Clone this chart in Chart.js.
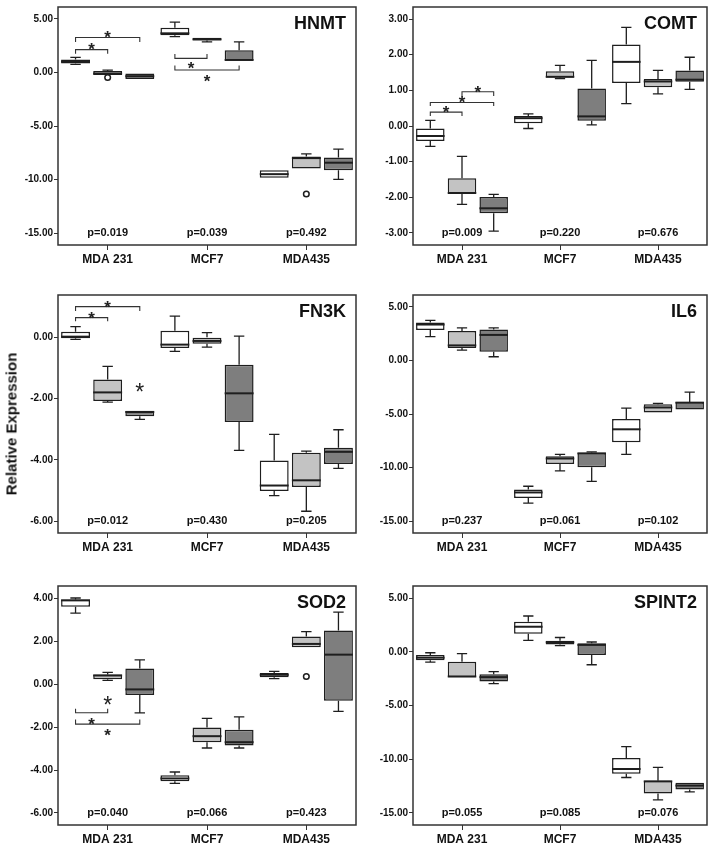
<!DOCTYPE html>
<html>
<head>
<meta charset="utf-8">
<script src="https://cdn.jsdelivr.net/npm/chart.js@4.4.1/dist/chart.umd.min.js"></script>
<style>
  html, body { margin: 0; padding: 0; background: #fff; overflow: hidden; }
  body { width: 709px; height: 844px; position: relative; }
  canvas { position: absolute; }
  #ylabel {
    position: absolute; left: 11px; top: 424px;
    transform: translate(-50%, -50%) rotate(-90deg);
    font: bold 15px "Liberation Sans", Arial, sans-serif;
    white-space: nowrap; color: #111;
  }
</style>
</head>
<body>
<canvas id="hnmt" width="360" height="270" style="left:0;top:0"></canvas>
<canvas id="comt" width="354" height="270" style="left:355px;top:0"></canvas>
<canvas id="fn3k" width="360" height="270" style="left:0;top:288px"></canvas>
<canvas id="il6" width="354" height="270" style="left:355px;top:288px"></canvas>
<canvas id="sod2" width="360" height="271" style="left:0;top:579px"></canvas>
<canvas id="spint2" width="354" height="271" style="left:355px;top:579px"></canvas>
<div id="ylabel">Relative Expression</div>
<script>
const categories = ["MDA 231", "MCF7", "MDA435"];

// each box: [min, q1, median, q3, max], one per category
const hnmtS1 = [[0.75, 0.85, 1.02, 1.22, 1.42], [3.36, 3.48, 3.66, 4.18, 4.7], [-9.83, -9.83, -9.5, -9.13, -9.13]];
const hnmtS2 = [[-0.23, -0.23, -0.1, 0.13, 0.22], [2.87, 3.0, 3.1, 3.24, 3.24], [-8.98, -8.98, -8.0, -7.86, -7.61]];
const hnmtS3 = [[-0.62, -0.6, -0.35, -0.1, -0.1], [1.05, 1.11, 1.17, 2.08, 2.87], [-9.98, -9.13, -8.43, -7.95, -7.16]];
const hnmtOutliers = [[0, 1, -0.47], [2, 1, -11.35]];
const hnmtP = ["p=0.019", "p=0.039", "p=0.492"];
const hnmtTicks = [5, 0, -5, -10, -15];

const comtS1 = [[-0.57, -0.42, -0.28, -0.07, 0.16], [-0.07, 0.08, 0.22, 0.28, 0.34], [0.63, 1.21, 1.8, 2.29, 2.77]];
const comtS2 = [[-2.2, -1.9, -1.88, -1.47, -0.85], [1.33, 1.36, 1.38, 1.54, 1.7], [0.9, 1.09, 1.25, 1.32, 1.56]];
const comtS3 = [[-2.95, -2.45, -2.31, -1.99, -1.92], [0.03, 0.15, 0.27, 1.05, 1.84], [1.03, 1.24, 1.3, 1.56, 1.93]];
const comtP = ["p=0.009", "p=0.220", "p=0.676"];
const comtTicks = [3, 2, 1, 0, -1, -2, -3];

const fn3kS1 = [[-0.07, -0.03, 0.02, 0.18, 0.35], [-0.46, -0.35, -0.24, 0.21, 0.69], [-5.17, -5.02, -4.84, -4.02, -3.17]];
const fn3kS2 = [[-2.12, -2.08, -1.8, -1.38, -0.95], [-0.32, -0.21, -0.12, 0.0, 0.15], [-5.68, -4.89, -4.67, -3.77, -3.72]];
const fn3kS3 = [[-2.68, -2.58, -2.44, -2.4, -2.4], [-3.69, -2.77, -1.83, -0.9, 0.04], [-4.28, -4.14, -3.74, -3.61, -3.02]];
const fn3kP = ["p=0.012", "p=0.430", "p=0.205"];
const fn3kTicks = [0, -2, -4, -6];

const il6S1 = [[2.23, 2.84, 3.36, 3.54, 3.75], [-13.33, -12.84, -12.33, -12.05, -11.75], [-8.77, -7.64, -6.43, -5.46, -4.45]];
const il6S2 = [[0.96, 1.17, 1.41, 2.75, 3.05], [-10.32, -9.68, -9.16, -8.95, -8.77], [-4.91, -4.85, -4.39, -4.09, -4.0]];
const il6S3 = [[0.35, 0.81, 2.39, 2.9, 3.05], [-11.29, -9.98, -8.68, -8.62, -8.53], [-4.6, -4.57, -3.94, -3.88, -2.96]];
const il6P = ["p=0.237", "p=0.061", "p=0.102"];
const il6Ticks = [5, 0, -5, -10, -15];

const sod2S1 = [[3.32, 3.61, 3.91, 3.95, 4.02], [-4.62, -4.52, -4.39, -4.24, -4.09], [0.26, 0.33, 0.44, 0.52, 0.6]];
const sod2S2 = [[0.18, 0.23, 0.41, 0.45, 0.55], [-2.97, -2.7, -2.42, -2.02, -1.59], [1.7, 1.73, 1.88, 2.23, 2.45]];
const sod2S3 = [[-1.33, -0.5, -0.24, 0.74, 1.14], [-2.97, -2.85, -2.7, -2.12, -1.52], [-1.26, -0.77, 1.38, 2.5, 3.36]];
const sod2Outliers = [[2, 1, 0.36]];
const sod2P = ["p=0.040", "p=0.066", "p=0.423"];
const sod2Ticks = [4, 2, 0, -2, -4, -6];

const spint2S1 = [[-0.97, -0.79, -0.55, -0.3, -0.09], [1.06, 1.67, 2.33, 2.79, 3.33], [-11.7, -11.36, -10.91, -9.88, -8.82]];
const spint2S2 = [[-2.42, -2.36, -2.3, -0.94, -0.18], [0.58, 0.67, 0.88, 1.03, 1.33], [-13.79, -13.18, -12.06, -12.0, -10.76]];
const spint2S3 = [[-2.97, -2.76, -2.36, -2.09, -1.85], [-1.21, -0.3, 0.64, 0.79, 0.91], [-13.03, -12.82, -12.45, -12.18, -12.12]];
const spint2P = ["p=0.055", "p=0.085", "p=0.076"];
const spint2Ticks = [5, 0, -5, -10, -15];

// significance brackets: [category, fromSeries, toSeries, lineValue, endValue]
const hnmtBrackets = [[0, 0, 1, 2.14, 1.75], [0, 0, 2, 3.27, 2.84], [1, 0, 1, 1.32, 1.72], [1, 0, 2, 0.23, 0.65]];
const comtBrackets = [[0, 0, 1, 0.39, 0.28], [0, 0, 2, 0.66, 0.56], [0, 1, 2, 0.96, 0.84]];
const fn3kBrackets = [[0, 0, 1, 0.64, 0.52], [0, 0, 2, 1.0, 0.86]];
const sod2Brackets = [[0, 0, 1, -1.33, -1.14], [0, 0, 2, -1.86, -1.64]];

// asterisks: [category, seriesA, seriesB, value] drawn midway between two boxes
const hnmtStars = [[0, 0, 1, 2.54], [0, 0, 2, 3.66], [1, 0, 1, 0.8], [1, 0, 2, -0.44]];
const comtStars = [[0, 0, 1, 0.51], [0, 0, 2, 0.78], [0, 1, 2, 1.07]];
const fn3kStars = [[0, 0, 1, 0.75], [0, 0, 2, 1.11]];
const fn3kBigStars = [[0, 2, 2, -1.62]];
const sod2Stars = [[0, 0, 1, -1.68], [0, 0, 2, -2.21]];
const sod2BigStars = [[0, 1, 1, -0.74]];

const FONT = "'Liberation Sans', Arial, sans-serif";
const fills = ["#ffffff", "#c3c3c3", "#7e7e7e"];
const INK = "#1e1e1e";

const boxExtras = {
  id: "boxExtras",
  afterDatasetsDraw(chart, args, opts) {
    const ctx = chart.ctx;
    const ys = chart.scales.y;
    const area = chart.chartArea;
    const px = (cat, s) => chart.getDatasetMeta(s).data[cat].x;
    ctx.save();
    ctx.strokeStyle = INK;
    ctx.lineCap = "butt";

    // whiskers and medians
    opts.stats.forEach((series, s) => {
      const meta = chart.getDatasetMeta(s);
      series.forEach((st, cat) => {
        const el = meta.data[cat];
        const x = el.x, w = el.width, cap = w * 0.36;
        const [mn, q1, md, q3, mx] = st.map(v => ys.getPixelForValue(v));
        ctx.lineWidth = 1.3;
        ctx.beginPath();
        if (q3 - mx > 0.8) {
          ctx.moveTo(x, q3); ctx.lineTo(x, mx);
          ctx.moveTo(x - cap / 2, mx); ctx.lineTo(x + cap / 2, mx);
        }
        if (mn - q1 > 0.8) {
          ctx.moveTo(x, q1); ctx.lineTo(x, mn);
          ctx.moveTo(x - cap / 2, mn); ctx.lineTo(x + cap / 2, mn);
        }
        ctx.stroke();
        ctx.lineWidth = 2;
        ctx.beginPath();
        ctx.moveTo(x - w / 2, md); ctx.lineTo(x + w / 2, md);
        ctx.stroke();
      });
    });

    // outliers
    (opts.outliers || []).forEach(([cat, s, v]) => {
      ctx.lineWidth = 1.5;
      ctx.fillStyle = "#fff";
      ctx.beginPath();
      ctx.arc(px(cat, s), ys.getPixelForValue(v), 2.8, 0, Math.PI * 2);
      ctx.fill();
      ctx.stroke();
    });

    // brackets
    ctx.lineWidth = 1.1;
    ctx.strokeStyle = "#333";
    (opts.brackets || []).forEach(([cat, a, b, line, end]) => {
      const x1 = px(cat, a), x2 = px(cat, b);
      const yl = ys.getPixelForValue(line), ye = ys.getPixelForValue(end);
      ctx.beginPath();
      ctx.moveTo(x1, ye); ctx.lineTo(x1, yl); ctx.lineTo(x2, yl); ctx.lineTo(x2, ye);
      ctx.stroke();
    });

    // asterisks
    ctx.fillStyle = "#222";
    ctx.textAlign = "center";
    ctx.textBaseline = "alphabetic";
    const star = (list, size, weight) => (list || []).forEach(([cat, a, b, v]) => {
      ctx.font = weight + " " + size + "px " + FONT;
      const x = (px(cat, a) + px(cat, b)) / 2;
      ctx.fillText("*", x, ys.getPixelForValue(v) + size * 0.57);
    });
    star(opts.stars, 17, "bold");
    star(opts.bigStars, 23, "normal");

    // p-values
    ctx.fillStyle = "#111";
    ctx.font = "bold 11px " + FONT;
    ctx.textBaseline = "middle";
    opts.pvals.forEach((p, i) => {
      ctx.fillText(p, chart.scales.x.getPixelForValue(i), area.bottom - 12);
    });

    // gene name
    ctx.font = "bold 18px " + FONT;
    ctx.textAlign = "right";
    ctx.textBaseline = "alphabetic";
    ctx.fillText(opts.title, area.right - 10, area.top + 22);
    ctx.restore();
  },
  afterDraw(chart) {
    const a = chart.chartArea;
    const ctx = chart.ctx;
    ctx.save();
    ctx.strokeStyle = "#333";
    ctx.lineWidth = 1.5;
    ctx.strokeRect(a.left, a.top, a.right - a.left, a.bottom - a.top);
    ctx.restore();
  }
};

function makePanel(id, title, series, range, ticks, pvals, extra, padRight) {
  const stats = series;
  new Chart(document.getElementById(id), {
    type: "bar",
    data: {
      labels: categories,
      datasets: series.map((s, i) => ({
        data: s.map(b => [b[1], b[3]]),
        backgroundColor: fills[i],
        borderColor: INK,
        borderWidth: 1.5,
        borderSkipped: false,
        categoryPercentage: 0.97,
        barPercentage: 0.9
      }))
    },
    options: {
      responsive: false,
      animation: false,
      layout: { padding: { left: 0, right: padRight, top: 1, bottom: 1 } },
      plugins: {
        legend: { display: false },
        tooltip: { enabled: false },
        boxExtras: Object.assign({ title, stats, pvals }, extra)
      },
      scales: {
        x: {
          grid: { display: true, offset: false, drawOnChartArea: false, tickLength: 5, color: "#333" },
          border: { display: false },
          ticks: { color: "#111", padding: 2, font: { family: FONT, size: 12, weight: "bold" } },
          afterFit: s => { s.height = 24; }
        },
        y: {
          min: range[0],
          max: range[1],
          grid: { display: true, drawOnChartArea: false, tickLength: 4, color: "#333" },
          border: { display: false },
          ticks: {
            color: "#111",
            padding: 1,
            font: { family: FONT, size: 10, weight: "bold" },
            callback: v => Number(v).toFixed(2)
          },
          afterBuildTicks: s => { s.ticks = ticks.map(v => ({ value: v })); },
          afterFit: s => { s.width = 58; }
        }
      }
    },
    plugins: [boxExtras]
  });
}

makePanel("hnmt", "HNMT", [hnmtS1, hnmtS2, hnmtS3], [-16.12, 6.12], hnmtTicks, hnmtP,
  { outliers: hnmtOutliers, brackets: hnmtBrackets, stars: hnmtStars }, 4);
makePanel("comt", "COMT", [comtS1, comtS2, comtS3], [-3.34, 3.34], comtTicks, comtP,
  { brackets: comtBrackets, stars: comtStars }, 2);
makePanel("fn3k", "FN3K", [fn3kS1, fn3kS2, fn3kS3], [-6.39, 1.38], fn3kTicks, fn3kP,
  { brackets: fn3kBrackets, stars: fn3kStars, bigStars: fn3kBigStars }, 4);
makePanel("il6", "IL6", [il6S1, il6S2, il6S3], [-16.12, 6.12], il6Ticks, il6P, {}, 2);
makePanel("sod2", "SOD2", [sod2S1, sod2S2, sod2S3], [-6.56, 4.58], sod2Ticks, sod2P,
  { outliers: sod2Outliers, brackets: sod2Brackets, stars: sod2Stars, bigStars: sod2BigStars }, 4);
makePanel("spint2", "SPINT2", [spint2S1, spint2S2, spint2S3], [-16.12, 6.12], spint2Ticks, spint2P, {}, 2);
</script>
</body>
</html>
